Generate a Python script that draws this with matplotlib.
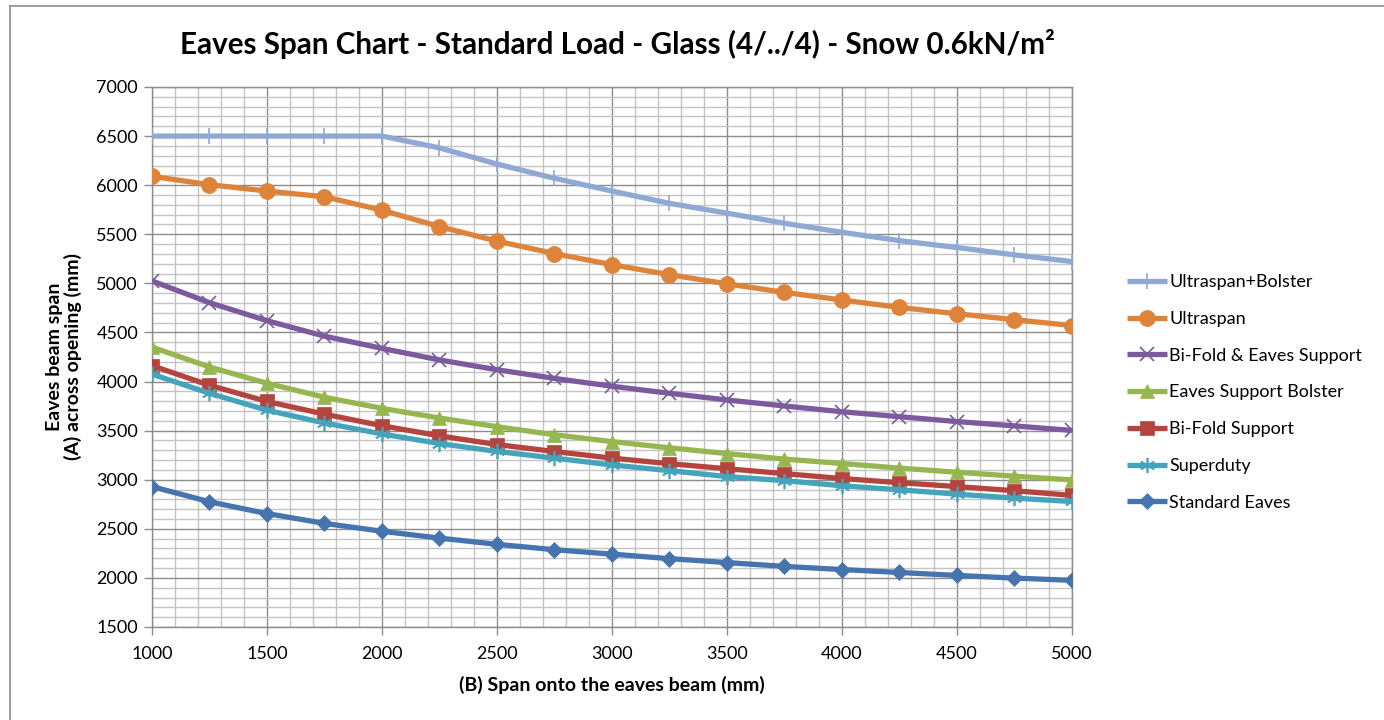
"""
Eaves span chart - standard load, glass (4/../4), snow 0.6kN/m2.
Rebuilt with matplotlib from a spreadsheet chart.
"""

import matplotlib
matplotlib.use("Agg")
import matplotlib.pyplot as plt
from matplotlib.lines import Line2D
from matplotlib.ticker import MultipleLocator


# ============================================================================
# DATA
# ============================================================================

span_b = [1000, 1250, 1500, 1750, 2000, 2250, 2500, 2750, 3000,
          3250, 3500, 3750, 4000, 4250, 4500, 4750, 5000]

ultraspan_bolster = [6500, 6500, 6500, 6500, 6500, 6380, 6215, 6070, 5940,
                     5815, 5715, 5612, 5520, 5435, 5365, 5290, 5222]
ultraspan = [6090, 6005, 5940, 5882, 5745, 5578, 5430, 5303, 5190,
             5088, 4995, 4908, 4830, 4755, 4690, 4630, 4570]
bifold_eaves = [5025, 4803, 4620, 4462, 4338, 4220, 4120, 4032, 3952,
                3880, 3812, 3751, 3692, 3642, 3592, 3548, 3502]
eaves_bolster = [4350, 4148, 3982, 3840, 3727, 3628, 3540, 3458, 3388,
                 3325, 3266, 3210, 3165, 3118, 3076, 3036, 2998]
bifold_support = [4162, 3962, 3797, 3668, 3550, 3447, 3358, 3287, 3220,
                  3163, 3112, 3062, 3012, 2970, 2930, 2888, 2840]
superduty = [4075, 3880, 3708, 3578, 3466, 3368, 3288, 3220, 3150,
             3092, 3032, 2990, 2938, 2897, 2853, 2812, 2778]
standard_eaves = [2930, 2775, 2655, 2555, 2475, 2405, 2342, 2287, 2242,
                  2196, 2156, 2117, 2085, 2055, 2025, 1998, 1975]

series_names = ["Ultraspan+Bolster", "Ultraspan", "Bi-Fold & Eaves Support",
                "Eaves Support Bolster", "Bi-Fold Support", "Superduty",
                "Standard Eaves"]
series_values = [ultraspan_bolster, ultraspan, bifold_eaves, eaves_bolster,
                 bifold_support, superduty, standard_eaves]

# ============================================================================
# STYLE
# ============================================================================

COLORS = ["#8FA9D4", "#DE833A", "#7B5A9E", "#96B64F",
          "#B5443F", "#46A3BC", "#4674AE"]
ASTERISK = (6, 2, 0)
MARKERS = ["+", "o", "x", "^", "s", ASTERISK, "D"]
MARKER_SIZES = [11, 11.5, 10, 10.5, 9.5, 11, 8.5]

plt.rcParams["font.family"] = ["Lato", "DejaVu Sans"]

fig = plt.figure(figsize=(13.84, 7.2), dpi=100)
ax = fig.add_axes([0.1098, 0.1292, 0.6647, 0.75])

for name, vals, col, mk, ms in zip(series_names, series_values,
                                   COLORS, MARKERS, MARKER_SIZES):
    thin = mk in ("+", "x", ASTERISK)
    ax.plot(span_b, vals, color=col, lw=3.8, marker=mk, markersize=ms,
            markeredgewidth=1.2 if thin else 0.5, markeredgecolor=col,
            label=name, zorder=3, solid_capstyle="butt")

# axes + grid
ax.set_xlim(1000, 5000)
ax.set_ylim(1500, 7000)
ax.xaxis.set_major_locator(MultipleLocator(500))
ax.yaxis.set_major_locator(MultipleLocator(500))
ax.xaxis.set_minor_locator(MultipleLocator(100))
ax.yaxis.set_minor_locator(MultipleLocator(100))
ax.grid(which="minor", color="#c4c4c4", lw=1.0, zorder=1)
ax.grid(which="major", color="#8c8c8c", lw=1.0, zorder=1)
ax.tick_params(which="major", length=6, width=1, color="#8c8c8c",
               labelsize=13, pad=4)
ax.tick_params(which="minor", length=0)
ax.tick_params(axis="x", pad=8)
for side in ax.spines:
    ax.spines[side].set_color("#8c8c8c")
    ax.spines[side].set_linewidth(1)

ax.set_xlabel("(B) Span onto the eaves beam (mm)", fontsize=14,
              fontweight="bold", labelpad=10)
ax.set_ylabel("Eaves beam span\n(A) across opening (mm)", fontsize=14,
              fontweight="bold", labelpad=10, linespacing=1.1)

fig.suptitle("Eaves Span Chart - Standard Load - Glass (4/../4) - Snow 0.6kN/m²",
             x=0.446, y=0.96, fontsize=21.3, fontweight="bold")

# legend, built from the plotted lines
handles, labels = ax.get_legend_handles_labels()
fig.legend(handles, labels, loc="center left", bbox_to_anchor=(0.809, 0.455),
           frameon=False, fontsize=13, handlelength=2.2, handletextpad=0.15,
           labelspacing=1.15, borderaxespad=0)

# chart frame, top and left edges
fig.add_artist(Line2D([0.0072, 1.0], [0.9917, 0.9917], color="#8c8c8c",
                      lw=1.2, transform=fig.transFigure))
fig.add_artist(Line2D([0.0072, 0.0072], [0.0, 0.9917], color="#8c8c8c",
                      lw=1.2, transform=fig.transFigure))

fig.savefig("out.png", dpi=100)
